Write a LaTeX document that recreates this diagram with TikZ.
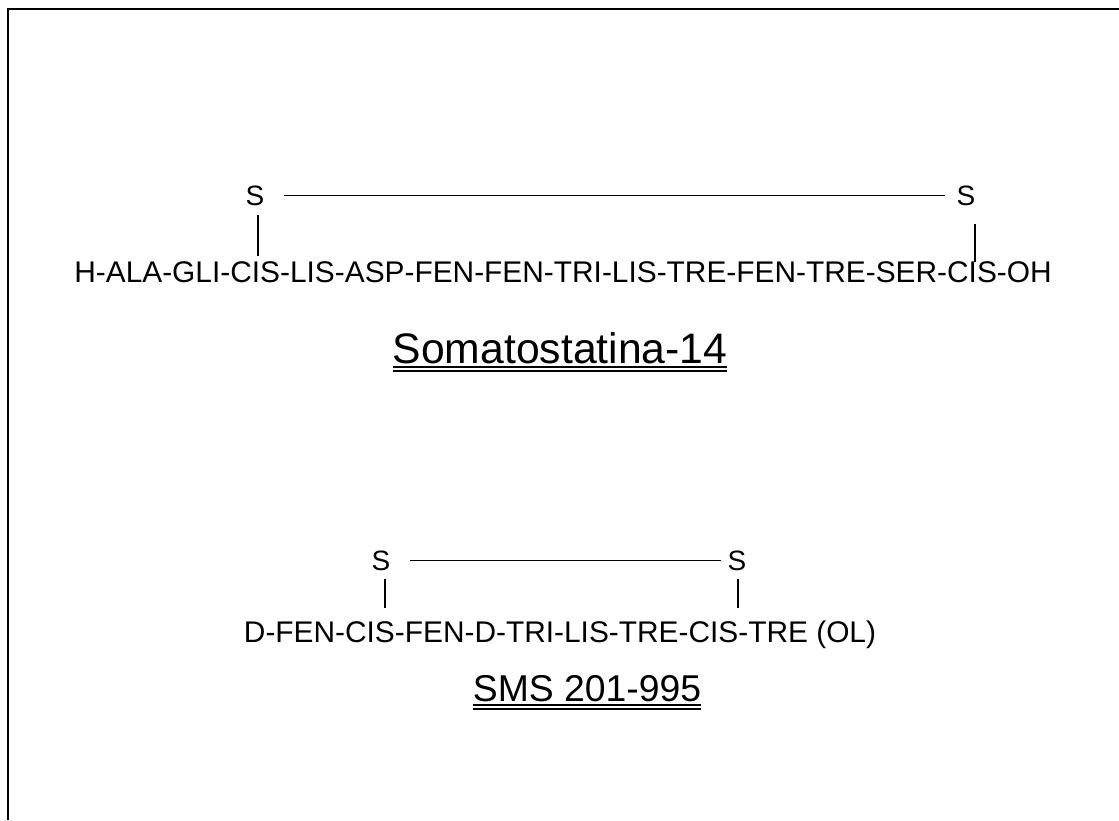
\documentclass[tikz,border=0pt]{standalone}
\usepackage{fontspec}
\setmainfont{Liberation Sans}
\begin{document}
\begin{tikzpicture}[x=0.75pt,y=-0.75pt,
  seqtext/.style={font=\fontsize{22.4}{26}\selectfont, inner sep=0pt, anchor=base},
  sulfur/.style={font=\fontsize{21}{25}\selectfont, inner sep=0pt, anchor=base},
  titletext/.style={font=\fontsize{32}{36}\selectfont, inner sep=0pt, anchor=base},
  bond/.style={line width=1pt},
  frame/.style={line width=1.5pt}]
\useasboundingbox (0,0) rectangle (1119,820);
\fill[white] (0,0) rectangle (1119,820);
% frame (top and left edges)
\draw[frame] (8,820) -- (8,9) -- (1119,9);

% Somatostatina-14
\node[sulfur] (s1a) at (255,205) {S};
\node[sulfur] (s1b) at (966,205) {S};
\node[seqtext] (seq1) at (563,282) {H-ALA-GLI-CIS-LIS-ASP-FEN-FEN-TRI-LIS-TRE-FEN-TRE-SER-CIS-OH};
\coordinate (c1a) at (258,256);
\coordinate (c1b) at (975,262);
\draw[bond] ([xshift=22pt]s1a.center) -- ([xshift=-16pt]s1b.center);
\draw[bond] ([yshift=-7pt]s1a.south -| c1a) -- (c1a);
\draw[bond] ([yshift=-14pt]s1b.south -| c1b) -- (c1b);
\node[titletext] (t1) at (560,363) {Somatostatina-14};
\draw[line width=2pt] ([yshift=-2.5pt]t1.south west) -- ([yshift=-2.5pt]t1.south east);
\draw[line width=0.8pt] ([yshift=-5.5pt]t1.south west) -- ([yshift=-5.5pt]t1.south east);

% SMS 201-995
\node[sulfur] (s2a) at (381,570) {S};
\node[sulfur] (s2b) at (737,570) {S};
\node[seqtext] (seq2) at (560,642) {D-FEN-CIS-FEN-D-TRI-LIS-TRE-CIS-TRE (OL)};
\coordinate (c2a) at (385,608);
\coordinate (c2b) at (738,608);
\draw[bond] ([xshift=22pt]s2a.center) -- ([xshift=-12pt]s2b.center);
\draw[bond] ([yshift=-6pt]s2a.south -| c2a) -- (c2a);
\draw[bond] ([yshift=-6pt]s2b.south -| c2b) -- (c2b);
\node[titletext, font=\fontsize{28}{32}\selectfont] (t2) at (587,701) {SMS 201-995};
\draw[line width=2pt] ([yshift=-2.5pt]t2.south west) -- ([yshift=-2.5pt]t2.south east);
\draw[line width=0.8pt] ([yshift=-5.5pt]t2.south west) -- ([yshift=-5.5pt]t2.south east);
\end{tikzpicture}
\end{document}
